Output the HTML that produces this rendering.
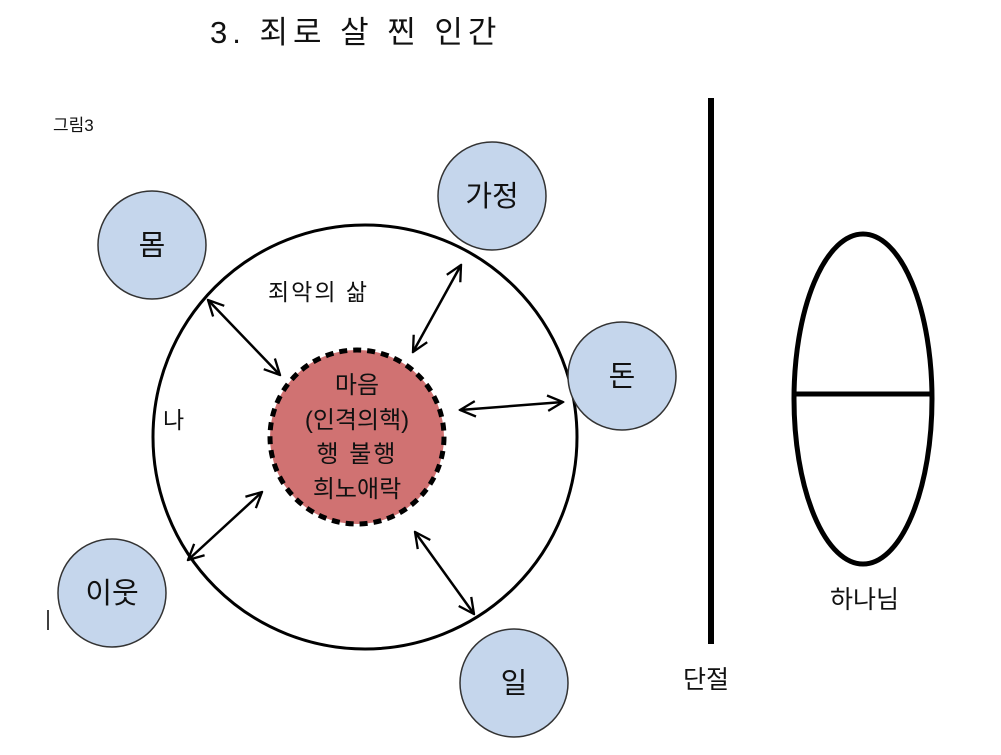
<!DOCTYPE html>
<html><head><meta charset="utf-8"><style>
body{margin:0;background:#fff;}
svg text{font-family:"Liberation Sans","Noto Sans CJK KR","NanumGothic",sans-serif;fill:#111;}
</style></head><body>
<svg width="1001" height="750" viewBox="0 0 1001 750" xmlns="http://www.w3.org/2000/svg">
<defs>
<marker id="a" viewBox="0 0 14 14" refX="13" refY="7" markerWidth="18" markerHeight="18" markerUnits="userSpaceOnUse" orient="auto-start-reverse">
<path d="M1,1 L13,7 L1,13" fill="none" stroke="#000" stroke-width="1.8"/>
</marker>
</defs>
<text x="210" y="43" font-size="31" letter-spacing="5">3. 죄로 살 찐 인간</text>
<text x="53" y="131" font-size="17">그림3</text>
<circle cx="365" cy="437" r="212" fill="#fff" stroke="#000" stroke-width="3"/>
<circle cx="152" cy="245" r="54" fill="#c5d6ec" stroke="#333" stroke-width="1.5"/>
<circle cx="492" cy="196" r="54" fill="#c5d6ec" stroke="#333" stroke-width="1.5"/>
<circle cx="622" cy="376" r="54" fill="#c5d6ec" stroke="#333" stroke-width="1.5"/>
<circle cx="112" cy="593" r="54" fill="#c5d6ec" stroke="#333" stroke-width="1.5"/>
<circle cx="514" cy="683" r="54" fill="#c5d6ec" stroke="#333" stroke-width="1.5"/>
<text x="152" y="255" font-size="29" text-anchor="middle">몸</text>
<text x="492" y="206" font-size="29" text-anchor="middle">가정</text>
<text x="622" y="386" font-size="29" text-anchor="middle">돈</text>
<text x="112" y="603" font-size="29" text-anchor="middle">이웃</text>
<text x="514" y="693" font-size="29" text-anchor="middle">일</text>
<circle cx="357" cy="437" r="87" fill="#d07272" stroke="#000" stroke-width="5" stroke-dasharray="8,6"/>
<text x="357" y="393" font-size="24" text-anchor="middle">마음</text>
<text x="357" y="428" font-size="24" text-anchor="middle">(인격의핵)</text>
<text x="357" y="462" font-size="24" text-anchor="middle" letter-spacing="2">행 불행</text>
<text x="357" y="497" font-size="24" text-anchor="middle">희노애락</text>
<text x="268" y="300" font-size="23" letter-spacing="2">죄악의 삶</text>
<text x="163" y="428" font-size="23">나</text>
<g stroke="#000" stroke-width="2.5" marker-start="url(#a)" marker-end="url(#a)">
<line x1="208" y1="300" x2="280" y2="375"/>
<line x1="461" y1="265" x2="413" y2="352"/>
<line x1="460" y1="410" x2="563" y2="402"/>
<line x1="262" y1="492" x2="188" y2="560"/>
<line x1="415" y1="532" x2="474" y2="614"/>
</g>
<line x1="711" y1="98" x2="711" y2="644" stroke="#000" stroke-width="6"/>
<ellipse cx="863" cy="399" rx="69" ry="165" fill="none" stroke="#000" stroke-width="5"/>
<line x1="794" y1="394" x2="932" y2="394" stroke="#000" stroke-width="5"/>
<text x="683" y="688" font-size="25">단절</text>
<text x="830" y="608" font-size="25">하나님</text>
<line x1="48" y1="610" x2="48" y2="630" stroke="#000" stroke-width="1.5"/>
</svg>
</body></html>
